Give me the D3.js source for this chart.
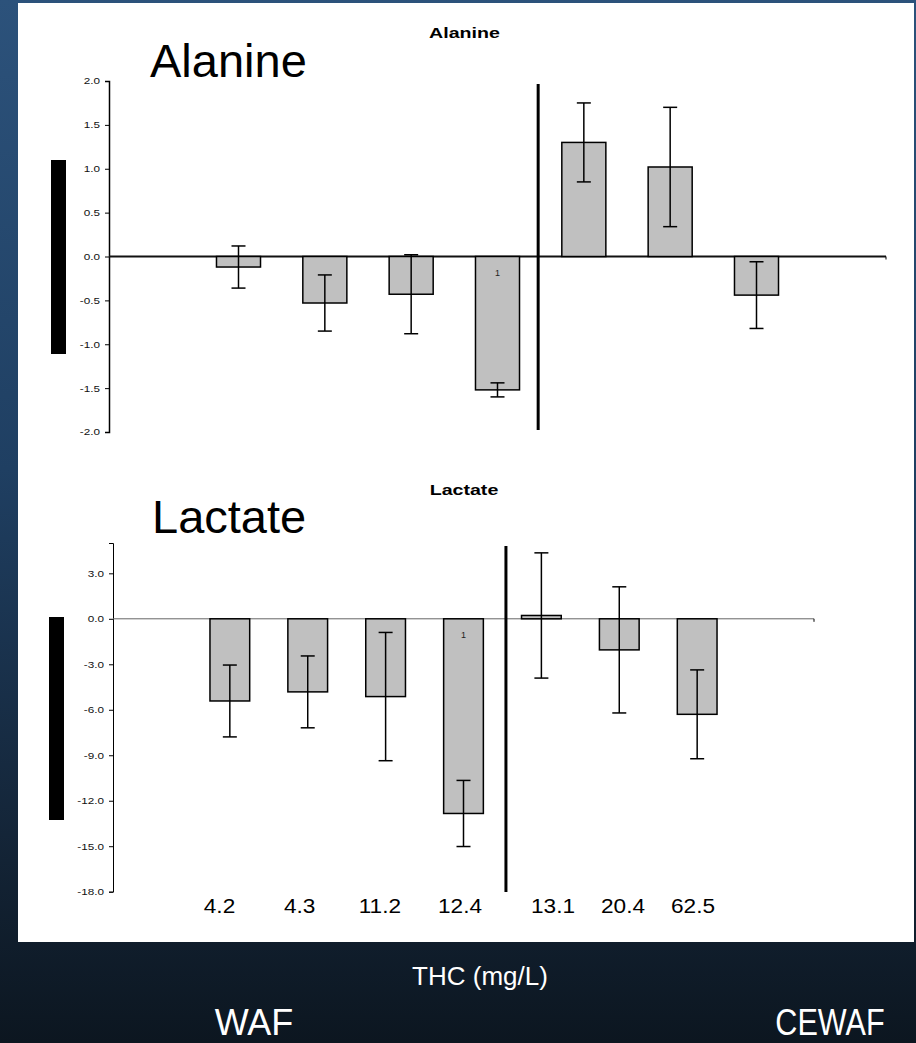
<!DOCTYPE html>
<html>
<head>
<meta charset="utf-8">
<script src="https://cdn.jsdelivr.net/npm/d3@7"></script>
<style>
  html, body { margin: 0; padding: 0; background: #0d1722; }
  svg { display: block; }
  text { font-family: "Liberation Sans", Arial, sans-serif; }
</style>
</head>
<body>
<svg id="chart" width="916" height="1043"></svg>
<script>
// ---------- data ----------
const thc = ["4.2", "4.3", "11.2", "12.4", "13.1", "20.4", "62.5"];
const wafLabels = ["4.2", "4.3", "11.2", "12.4"];
const cewafLabels = ["13.1", "20.4", "62.5"];
const alanineMean = [-0.12, -0.53, -0.43, -1.52, 1.30, 1.02, -0.44];
const alanineErr  = [0.24, 0.32, 0.45, 0.08, 0.45, 0.68, 0.38];
const lactateMean = [-5.42, -4.82, -5.13, -12.84, 0.22, -2.05, -6.30];
const lactateErr  = [2.37, 2.37, 4.23, 2.18, 4.13, 4.16, 2.93];
const sigMarks    = ["", "", "", "1", "", "", ""];
const alanineTicks = [2.0, 1.5, 1.0, 0.5, 0.0, -0.5, -1.0, -1.5, -2.0];
const lactateTicks = [3.0, 0.0, -3.0, -6.0, -9.0, -12.0, -15.0, -18.0];

// ---------- helpers ----------
function stretch(sel, k) {
  sel.each(function () {
    const w = this.getComputedTextLength();
    this.setAttribute("textLength", w * k);
    this.setAttribute("lengthAdjust", "spacingAndGlyphs");
  });
}

const svg = d3.select("#chart");
const W = 916, H = 1043;

// background gradient
const defs = svg.append("defs");
const grad = defs.append("linearGradient").attr("id", "bg").attr("x1", 0).attr("y1", 0).attr("x2", 0).attr("y2", 1);
grad.append("stop").attr("offset", "0%").attr("stop-color", "#2c527b");
grad.append("stop").attr("offset", "45%").attr("stop-color", "#1f3f62");
grad.append("stop").attr("offset", "80%").attr("stop-color", "#142538");
grad.append("stop").attr("offset", "100%").attr("stop-color", "#0c1620");
svg.append("rect").attr("width", W).attr("height", H).attr("fill", "url(#bg)");

// white panel
svg.append("rect").attr("x", 18).attr("y", 3).attr("width", 896).attr("height", 939).attr("fill", "#ffffff");

const slots = ["pad0", ...thc, "pad1"];

function drawPanel(cfg) {
  const g = svg.append("g");
  const x = d3.scaleBand().domain(slots).range(cfg.xRange).paddingInner(0.49).paddingOuter(0.245);
  const y = d3.scaleLinear().domain(cfg.yDomain).range(cfg.yRange);

  // y axis
  const ax = g.append("g").attr("transform", `translate(${cfg.xRange[0]},0)`)
    .call(d3.axisLeft(y).tickValues(cfg.ticks).tickSize(4).tickPadding(5));
  ax.select(".domain").attr("stroke", "#000").attr("stroke-width", cfg.axisW);
  ax.selectAll(".tick line").attr("stroke", "#000").attr("stroke-width", 1);
  ax.selectAll(".tick text").attr("font-size", 9).attr("fill", "#111")
    .attr("font-family", "'Liberation Sans', Arial, sans-serif")
    .text(d => d3.format(".1f")(d).replace("\u2212", "-"));
  stretch(ax.selectAll(".tick text"), 1.3);

  // zero line
  g.append("line").attr("x1", cfg.xRange[0]).attr("x2", cfg.xRange[1])
    .attr("y1", y(0)).attr("y2", y(0))
    .attr("stroke", cfg.zeroColor).attr("stroke-width", cfg.zeroW);
  g.append("line").attr("x1", cfg.xRange[1]).attr("x2", cfg.xRange[1])
    .attr("y1", y(0)).attr("y2", y(0) + 3).attr("stroke", "#000").attr("stroke-width", 1);

  const data = thc.map((c, i) => ({ c, m: cfg.mean[i], e: cfg.err[i], s: sigMarks[i] }));

  // bars
  g.selectAll("rect.bar").data(data).enter().append("rect").attr("class", "bar")
    .attr("x", d => x(d.c)).attr("width", x.bandwidth())
    .attr("y", d => y(Math.max(0, d.m))).attr("height", d => Math.abs(y(d.m) - y(0)))
    .attr("fill", "#c0c0c0").attr("stroke", "#000").attr("stroke-width", 1.5);

  // error bars
  const cap = 7;
  const eb = g.selectAll("g.err").data(data).enter().append("g").attr("class", "err");
  eb.append("line").attr("x1", d => x(d.c) + x.bandwidth() / 2).attr("x2", d => x(d.c) + x.bandwidth() / 2)
    .attr("y1", d => y(d.m + d.e)).attr("y2", d => y(d.m - d.e)).attr("stroke", "#000").attr("stroke-width", 1.5);
  eb.append("line").attr("x1", d => x(d.c) + x.bandwidth() / 2 - cap).attr("x2", d => x(d.c) + x.bandwidth() / 2 + cap)
    .attr("y1", d => y(d.m + d.e)).attr("y2", d => y(d.m + d.e)).attr("stroke", "#000").attr("stroke-width", 1.5);
  eb.append("line").attr("x1", d => x(d.c) + x.bandwidth() / 2 - cap).attr("x2", d => x(d.c) + x.bandwidth() / 2 + cap)
    .attr("y1", d => y(d.m - d.e)).attr("y2", d => y(d.m - d.e)).attr("stroke", "#000").attr("stroke-width", 1.5);

  // significance marks
  g.selectAll("text.sig").data(data.filter(d => d.s)).enter().append("text").attr("class", "sig")
    .attr("x", d => x(d.c) + x.bandwidth() / 2).attr("y", y(0) + 19)
    .attr("text-anchor", "middle").attr("font-size", 9).attr("fill", "#222").text(d => d.s);

  // separator between WAF and CEWAF
  const sepX = (x(thc[3]) + x.bandwidth() + x(thc[4])) / 2 + cfg.sepOffset;
  g.append("line").attr("x1", sepX).attr("x2", sepX)
    .attr("y1", cfg.sepY[0]).attr("y2", cfg.sepY[1]).attr("stroke", "#000").attr("stroke-width", 3);

  // small bold chart title
  const t = g.append("text").attr("x", cfg.titleX).attr("y", cfg.titleY).attr("text-anchor", "middle")
    .attr("font-size", 14).attr("font-weight", "bold").attr("fill", "#000").text(cfg.title);
  stretch(t, 1.4);

  // big slide label
  g.append("text").attr("x", cfg.bigX).attr("y", cfg.bigY).attr("font-size", 47).attr("fill", "#000").text(cfg.title);

  // black bar (left)
  g.append("rect").attr("x", cfg.blk[0]).attr("y", cfg.blk[1]).attr("width", 15).attr("height", cfg.blk[2]).attr("fill", "#000");

  return { x, y };
}

drawPanel({
  title: "Alanine", mean: alanineMean, err: alanineErr, ticks: alanineTicks,
  xRange: [109, 886], yDomain: [-2, 2], yRange: [432, 81],
  axisW: 1.5, zeroColor: "#111", zeroW: 2,
  sepOffset: -2.5, sepY: [84, 430],
  titleX: 464.5, titleY: 38, bigX: 150, bigY: 77,
  blk: [51, 160, 194]
});

drawPanel({
  title: "Lactate", mean: lactateMean, err: lactateErr, ticks: lactateTicks,
  xRange: [113, 814], yDomain: [-18, 5], yRange: [891.7, 543],
  axisW: 1, zeroColor: "#666", zeroW: 1,
  sepOffset: 3.5, sepY: [546, 892],
  titleX: 464, titleY: 495, bigX: 152, bigY: 533,
  blk: [49, 617, 203]
});

// x labels (THC concentrations)
const xw = d3.scalePoint().domain(wafLabels).range([219.5, 460]);
const xc = d3.scalePoint().domain(cewafLabels).range([553, 693]);
const xl = svg.append("g");
xl.selectAll("text.w").data(wafLabels).enter().append("text").attr("class", "w")
  .attr("x", d => xw(d)).attr("y", 913).attr("text-anchor", "middle").attr("font-size", 20).attr("fill", "#000").text(d => d);
xl.selectAll("text.c").data(cewafLabels).enter().append("text").attr("class", "c")
  .attr("x", d => xc(d)).attr("y", 913).attr("text-anchor", "middle").attr("font-size", 20).attr("fill", "#000").text(d => d);
stretch(xl.selectAll("text"), 1.13);

// bottom slide texts
svg.append("text").attr("x", 480).attr("y", 985).attr("text-anchor", "middle")
  .attr("font-size", 26).attr("fill", "#ffffff").text("THC (mg/L)");
svg.append("text").attr("x", 254).attr("y", 1035).attr("text-anchor", "middle")
  .attr("font-size", 36).attr("fill", "#ffffff").text("WAF");
const ce = svg.append("text").attr("x", 830).attr("y", 1035).attr("text-anchor", "middle")
  .attr("font-size", 36).attr("fill", "#ffffff").text("CEWAF");
stretch(ce, 0.85);
</script>
</body>
</html>
